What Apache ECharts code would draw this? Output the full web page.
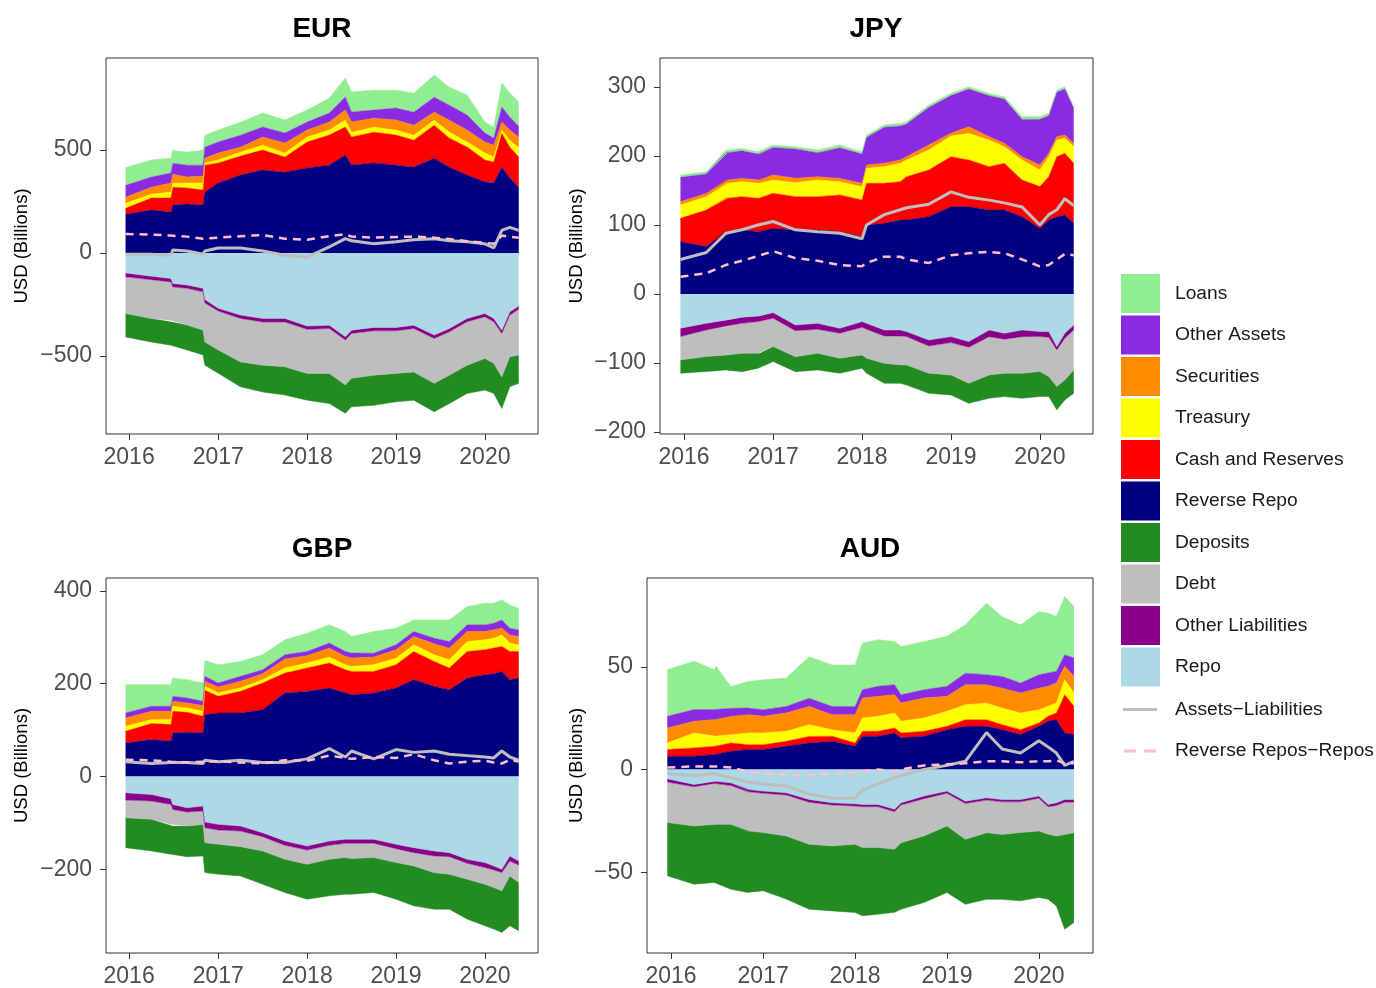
<!DOCTYPE html>
<html><head><meta charset="utf-8">
<script src="https://cdn.jsdelivr.net/npm/echarts@6/dist/echarts.min.js"></script>
<style>html,body{margin:0;padding:0;background:#fff}#c{width:1376px;height:988px}</style>
</head><body><div id="c"></div>
<script>
// ---------- tick labels ----------
const yearTicks = [2016, 2017, 2018, 2019, 2020];
const eurTicks = [-500, 0, 500];
const jpyTicks = [-200, -100, 0, 100, 200, 300];
const gbpTicks = [-200, 0, 200, 400];
const audTicks = [-50, 0, 50];

// ---------- EUR ----------
const eurDates = [2015.96,2016.25,2016.47,2016.49,2016.65,2016.83,2016.85,2017.0,2017.25,2017.5,2017.75,2018.0,2018.25,2018.43,2018.5,2018.75,2019.0,2019.2,2019.43,2019.6,2019.8,2020.0,2020.1,2020.19,2020.28,2020.38];
const eurReverseRepo = [189,209,199,233,238,233,296,340,379,403,393,413,427,476,427,437,427,417,461,417,379,345,340,417,364,320];
const eurCash = [29,58,68,87,78,73,131,97,92,97,73,126,146,136,136,150,146,131,160,141,136,107,102,165,150,146];
const eurTreasury = [24,19,29,19,24,34,10,15,19,24,19,24,24,34,24,24,24,24,24,29,24,34,24,15,34,44];
const eurSecurities = [29,34,44,44,29,34,24,34,24,39,49,34,39,49,49,44,49,49,39,58,58,53,58,39,49,53];
const eurOtherAssets = [58,49,49,53,58,53,53,53,58,49,49,39,44,63,49,39,58,63,73,73,73,44,34,73,63,53];
const eurLoans = [87,83,73,63,63,73,58,58,63,68,63,58,73,92,97,97,87,92,107,87,97,53,53,117,117,117];
const eurRepo = [-96,-112,-123,-147,-155,-171,-225,-268,-301,-317,-317,-354,-350,-406,-374,-361,-361,-350,-398,-366,-317,-293,-317,-374,-285,-257];
const eurOtherLiab = [-19,-17,-17,-17,-16,-17,-17,-13,-16,-17,-17,-16,-16,-16,-16,-16,-16,-16,-16,-16,-16,-16,-16,-16,-16,-16];
const eurDebt = [-178,-189,-186,-170,-178,-186,-189,-189,-211,-210,-218,-214,-218,-218,-218,-216,-207,-211,-218,-211,-211,-202,-202,-211,-202,-222];
const eurDeposits = [-114,-114,-121,-121,-121,-121,-113,-113,-121,-130,-137,-130,-146,-137,-138,-146,-138,-137,-138,-137,-137,-154,-146,-153,-146,-137];
const eurAssetsLiab = [-5,-5,-10,15,10,-5,10,25,25,10,-10,-20,30,70,60,45,55,65,70,60,55,45,25,110,125,110];
const eurRevRepoMinusRepo = [93,90,85,85,80,70,72,75,82,88,70,65,82,92,80,75,78,80,75,68,58,50,45,85,80,75];

// ---------- JPY ----------
const jpyDates = [2015.96,2016.25,2016.47,2016.49,2016.65,2016.83,2016.85,2017.0,2017.25,2017.5,2017.75,2018.0,2018.05,2018.25,2018.43,2018.5,2018.75,2019.0,2019.2,2019.43,2019.6,2019.8,2020.0,2020.1,2020.19,2020.28,2020.38];
const jpyReverseRepo = [75.8,68.6,90.3,90.3,92.7,90.3,90.3,95.2,92.7,92.7,90.3,83.1,100,102.4,107.2,107.2,112,126.5,126.5,121.7,121.7,112,95.2,107.2,112,114.5,102.4];
const jpyCash = [33.8,53,48.3,48.3,48.3,48.3,48.3,50.7,48.3,48.3,53.1,53.1,60.4,58,55.5,62.8,67.6,72.5,67.6,62.8,67.6,53.1,60.4,62.8,87,89.4,87];
const jpyTreasury = [19.3,19.3,21.7,21.7,21.7,21.7,21.7,19.3,20.3,24.2,19.3,19.3,21.7,24.2,26.6,24.2,29,30,38.6,38.6,24.2,29,24.2,29,24.2,21.7,24.2];
const jpySecurities = [4.8,4.8,4.8,4.8,4.8,4.8,4.8,7.2,6.3,4.8,4.8,4.8,4.8,4.8,4.8,4.8,7.2,3.9,9.7,4.8,4.8,4.8,7.2,4.8,4.8,4.8,4.8];
const jpyOtherAssets = [35.3,28,39.6,39.6,40,37.7,37.7,40,42.5,34.8,44.4,42.5,40,52.2,49.3,47.3,54.6,54.6,54.6,59.4,64.2,54.1,66.2,54.6,64.2,66.7,50.7];
const jpyLoans = [3.4,3.4,3.9,3.9,3.4,3.4,3.4,3.4,3.4,3.9,3.9,3.4,3.4,3.4,3.9,3.4,3.4,3.4,3.4,3.4,3.4,3.9,3.9,3.4,3.4,3.4,2.4];
const jpyRepo = [-49.7,-42.5,-37.7,-37.7,-33.8,-31.9,-31.9,-27,-45,-42.5,-49.7,-40.1,-42.5,-52.2,-52.2,-54.6,-66.7,-61.8,-69.1,-52.2,-57,-52.2,-54.6,-54.6,-76.3,-57,-44.9];
const jpyOtherLiab = [-12.1,-9.7,-8.7,-8.7,-8.7,-8.2,-8.2,-8.2,-8.2,-8.7,-7.2,-8.2,-8.7,-8.7,-8.7,-7.2,-8.7,-8.7,-8.2,-9.7,-8.7,-9.7,-7.2,-8.2,-4.8,-7.2,-7.2];
const jpyDebt = [-33.8,-38.6,-42,-42,-43.5,-45.9,-45.9,-41.1,-37.7,-34.8,-36.2,-40.1,-42,-39.6,-42,-41.1,-39.6,-46.9,-52.2,-55.5,-49.3,-53.1,-50.7,-57,-53.1,-60.4,-58];
const jpyDeposits = [-19.3,-21.7,-21.7,-21.7,-26.6,-21.7,-21.7,-21.7,-21.7,-24.2,-21.7,-19.3,-21.7,-29,-26.6,-29,-29,-29,-29,-33.8,-33.8,-36.2,-36.2,-29,-33.8,-29,-33.8];
const jpyAssetsLiab = [50,60,88,88,93,100,100,105,93,90,88,80,100,115,122,125,130,148,140,136,132,126,100,115,122,138,128];
const jpyRevRepoMinusRepo = [25,30,42,42,48,55,55,62,52,48,42,40,45,54,54,50,45,56,59,61,59,50,40,42,50,58,56];

// ---------- GBP ----------
const gbpDates = [2015.96,2016.25,2016.47,2016.49,2016.65,2016.83,2016.85,2017.0,2017.25,2017.5,2017.75,2018.0,2018.25,2018.43,2018.5,2018.75,2019.0,2019.2,2019.43,2019.6,2019.8,2020.0,2020.1,2020.19,2020.28,2020.38];
const gbpReverseRepo = [72.4,79.6,76,94,95.4,94,133.4,137,137,144.1,180,183.5,190.7,180,176.4,180,190.7,208.6,194.3,187.1,212.2,219.4,221.6,226.6,208.6,212.2];
const gbpCash = [25.1,34.4,35.9,46.6,43,35.9,52.3,35.9,46.6,57.4,43,50.2,53.8,50.2,50.2,46.6,50.2,60.9,53.8,46.6,57.4,53.8,55.2,53.8,60.9,57.4];
const gbpTreasury = [10.8,8.6,10.8,10.8,9.3,10.8,8.6,7.2,7.2,7.2,10.8,10.8,12.9,10.8,10.8,14.3,14.3,14.3,14.3,17.9,21.5,21.5,21.5,25.1,17.9,14.3];
const gbpSecurities = [17.9,17.9,17.9,10.8,10.8,12.2,10.8,12.9,14.3,12.9,19.4,15.8,19.4,17.9,17.9,16.5,17.9,17.9,23.7,25.1,21.5,17.9,17.9,14.3,17.9,17.9];
const gbpOtherAssets = [10.8,10.8,10.8,10.8,10.8,9.3,10.8,8.6,10.8,8.6,9.3,9.3,10.8,10.8,10.8,8.6,10.8,10.8,12.2,14.3,14.3,14.3,14.3,17.9,14.3,14.3];
const gbpLoans = [60.9,46.6,46.6,39.4,39.4,39.4,34.4,39.4,32.3,32.3,32.3,39.4,39.4,43,35.9,46.6,35.9,25.1,39.4,46.6,39.4,46.6,43,43,50.2,46.6];
const gbpRepo = [-35.1,-38.7,-48,-60.2,-67.4,-63.8,-98.2,-103.2,-106.8,-121.2,-139.1,-149.9,-139.1,-135.5,-135.5,-135.5,-146.3,-153.4,-160.6,-164.2,-178.5,-185.7,-192.9,-200,-171.4,-182.1];
const gbpOtherLiab = [-15.8,-14.3,-12.2,-10.8,-9.3,-10.8,-12.2,-12.2,-10.8,-8.6,-9.3,-8.6,-9.3,-8.6,-8.6,-8.6,-9.3,-10.8,-10.8,-8.6,-8.6,-10.8,-8.6,-7.2,-10.8,-9.3];
const gbpDebt = [-38,-39.4,-43,-35.9,-30.1,-28.7,-32.3,-30.8,-33.7,-30.8,-30.1,-30.8,-30.1,-30.8,-33,-30.8,-30.1,-28.7,-35.9,-38,-34.4,-35.9,-38,-39.4,-32.3,-37.3];
const gbpDeposits = [-64.5,-68.1,-64.5,-64.5,-66,-68.1,-64.5,-64.5,-63.1,-71.7,-71.7,-75.3,-78.9,-78.9,-76.7,-75.3,-78.9,-86,-78.9,-75.3,-86,-89.6,-89.6,-89.6,-107.6,-104];
const gbpAssetsLiab = [32,28,30,28,30,28,35,32,35,30,30,38,60,42,55,38,58,52,55,48,45,42,40,55,42,35];
const gbpRevRepoMinusRepo = [36,35,32,33,30,32,34,33,30,28,35,34,45,40,38,42,40,48,35,28,32,34,30,28,36,32];

// ---------- AUD ----------
const audDates = [2015.96,2016.25,2016.47,2016.49,2016.65,2016.83,2016.85,2017.0,2017.25,2017.5,2017.75,2018.0,2018.08,2018.25,2018.43,2018.5,2018.75,2019.0,2019.2,2019.43,2019.6,2019.8,2020.0,2020.1,2020.19,2020.28,2020.38];
const audReverseRepo = [6.5,6.5,7.3,7.3,8.9,9.7,9.7,9.7,11.3,12.9,13.8,11.3,16.2,16.2,17.8,15.4,16.2,19.4,21,21,19.4,17,21,23.5,24.3,17.8,17];
const audCash = [3.2,4,4,4,4,2.4,2.4,2.4,2.4,3.2,2.4,1.6,2.4,2.4,2.4,2.4,2.4,1.6,3.2,3.2,2.4,2.4,1.6,2.4,3.2,18.6,13.8];
const audTreasury = [3.2,7.3,4.9,4.9,4,5.7,5.7,5.7,4.9,5.7,3.2,4.9,6.5,7.3,7.3,5.7,6.5,7.3,7.3,8.1,8.1,8.1,6.5,4.9,4.9,7.3,6.5];
const audSecurities = [7.3,5.7,8.1,8.1,8.9,8.9,8.9,8.1,8.9,8.9,7.3,8.9,9.7,9.7,8.9,8.9,9.7,7.3,9.7,8.9,9.7,9.7,10.5,9.7,9.7,6.5,8.1];
const audOtherAssets = [5.7,5.7,4.9,4.9,4,3.2,3.2,3.2,3.2,4,4,4,4,4.9,4.9,4,4,4.9,5.7,4.9,5.7,4.9,6.5,6.5,5.7,5.7,8.9];
const audLoans = [22.7,23.5,19.4,21,10.5,12.9,12.9,14.6,13.8,20.2,20.2,20.2,22.7,22.7,21,23.5,23.5,24.3,23.5,34.8,29.1,28.3,30.7,29.1,26.7,28.3,25.1];
const audRepo = [-4.5,-7.3,-5.7,-5.7,-6.5,-9.7,-9.7,-10.5,-11.3,-14.6,-16.2,-16.7,-17,-17,-19.4,-16.2,-12.9,-10.5,-15.4,-13.8,-14.6,-14.6,-12.9,-17,-16.2,-14.6,-14.6];
const audOtherLiab = [-1.6,-1.1,-1.1,-1.1,-1.3,-1.1,-1.1,-1.1,-1.1,-1.3,-1.1,-1.1,-1.1,-1.1,-1.1,-1.1,-1.3,-1.1,-1.1,-1.1,-1.1,-1.1,-1.1,-1.1,-1.3,-1.3,-1.3];
const audDebt = [-19.7,-19.1,-19.9,-19.9,-18.9,-19.1,-19.1,-19.1,-19.9,-20.5,-19.9,-18.6,-19.9,-19.9,-18.3,-18.3,-18.1,-15.9,-17.5,-15.9,-15.9,-15,-15.9,-13.4,-14.9,-15.7,-14.9];
const audDeposits = [-25.9,-28.3,-28.3,-28.3,-31.6,-29.9,-29.9,-28.3,-30.7,-31.6,-31.6,-33.2,-33.2,-32.4,-30.7,-32.4,-32.4,-32.4,-31.6,-32.4,-31.6,-33.2,-32.4,-31.6,-34,-46.1,-43.7];
const audAssetsLiab = [-2,-3,-2,-2,-4,-6,-6,-7,-8,-12,-14,-14,-10,-7,-4,-3,0,2,4,18,10,8,14,11,8,2,4];
const audRevRepoMinusRepo = [1,1.5,1.5,1.5,1,-1,-1,-2,-2.5,-2.5,-2,-1.5,-1,0,-1,0,2,2.5,3,4,4,3.5,4,4,4.5,3,3];

// ---------- styling ----------
const FONT = '"Liberation Sans", Arial, Helvetica, sans-serif';
const COLORS = {
  'Loans': '#90EE90', 'Other Assets': '#8A2BE2', 'Securities': '#FF8C00', 'Treasury': '#FFFF00',
  'Cash and Reserves': '#FF0000', 'Reverse Repo': '#000080', 'Deposits': '#228B22', 'Debt': '#BEBEBE',
  'Other Liabilities': '#8B008B', 'Repo': '#ADD8E6'
};
const AL_NAME = 'Assets\u2212Liabilities';
const RR_NAME = 'Reverse Repos\u2212Repos';

// decimal year -> timestamp (UTC); the x axis is a value axis in ms
const toMs = y => { const yr = Math.floor(y); const a = Date.UTC(yr, 0, 1), b = Date.UTC(yr + 1, 0, 1); return Math.round(a + (y - yr) * (b - a)); };
const yearTickMs = yearTicks.map(y => Date.UTC(y, 0, 1));

const panels = [
  { title: 'EUR', cx: 322, ty: 15, grid: {left:106, top:58, width:432, height:376}, xmin: 2015.74, xmax: 2020.596, ymin: -878, ymax: 947, ticks: eurTicks, nameGap: 75,
    dates: eurDates, pos: [['Reverse Repo', eurReverseRepo], ['Cash and Reserves', eurCash], ['Treasury', eurTreasury], ['Securities', eurSecurities], ['Other Assets', eurOtherAssets], ['Loans', eurLoans]],
    neg: [['Repo', eurRepo], ['Other Liabilities', eurOtherLiab], ['Debt', eurDebt], ['Deposits', eurDeposits]], al: eurAssetsLiab, rr: eurRevRepoMinusRepo },
  { title: 'JPY', cx: 876, ty: 15, grid: {left:660, top:58, width:433, height:376}, xmin: 2015.73, xmax: 2020.596, ymin: -203, ymax: 342, ticks: jpyTicks, nameGap: 74,
    dates: jpyDates, pos: [['Reverse Repo', jpyReverseRepo], ['Cash and Reserves', jpyCash], ['Treasury', jpyTreasury], ['Securities', jpySecurities], ['Other Assets', jpyOtherAssets], ['Loans', jpyLoans]],
    neg: [['Repo', jpyRepo], ['Other Liabilities', jpyOtherLiab], ['Debt', jpyDebt], ['Deposits', jpyDeposits]], al: jpyAssetsLiab, rr: jpyRevRepoMinusRepo },
  { title: 'GBP', cx: 322, ty: 535, grid: {left:106, top:578, width:432, height:376}, xmin: 2015.74, xmax: 2020.596, ymin: -380.6, ymax: 428, ticks: gbpTicks, nameGap: 75,
    dates: gbpDates, pos: [['Reverse Repo', gbpReverseRepo], ['Cash and Reserves', gbpCash], ['Treasury', gbpTreasury], ['Securities', gbpSecurities], ['Other Assets', gbpOtherAssets], ['Loans', gbpLoans]],
    neg: [['Repo', gbpRepo], ['Other Liabilities', gbpOtherLiab], ['Debt', gbpDebt], ['Deposits', gbpDeposits]], al: gbpAssetsLiab, rr: gbpRevRepoMinusRepo },
  { title: 'AUD', cx: 870, ty: 535, grid: {left:647, top:578, width:446, height:376}, xmin: 2015.739, xmax: 2020.587, ymin: -89.3, ymax: 93.2, ticks: audTicks, nameGap: 61,
    dates: audDates, pos: [['Reverse Repo', audReverseRepo], ['Cash and Reserves', audCash], ['Treasury', audTreasury], ['Securities', audSecurities], ['Other Assets', audOtherAssets], ['Loans', audLoans]],
    neg: [['Repo', audRepo], ['Other Liabilities', audOtherLiab], ['Debt', audDebt], ['Deposits', audDeposits]], al: audAssetsLiab, rr: audRevRepoMinusRepo }
];

// stacked areas: value column first so the stack is applied to it (x given in column 1)
const stackRows = (d, v) => d.map((x, i) => [v[i], toMs(x)]);
const lineRows = (d, v) => d.map((x, i) => [toMs(x), v[i]]);
const fmtNum = v => (v < 0 ? '\u2212' + Math.abs(v) : String(v));

const grids = [], xAxes = [], yAxes = [], series = [], titles = [];
panels.forEach((p, i) => {
  grids.push(Object.assign({show: true, borderColor: '#333333', borderWidth: 1, backgroundColor: 'transparent', containLabel: false}, p.grid));
  titles.push({text: p.title, left: p.cx, top: p.ty, textAlign: 'center', padding: 0,
    textStyle: {fontSize: 28, fontWeight: 'bold', color: '#000', fontFamily: FONT}});
  xAxes.push({type: 'value', gridIndex: i, min: toMs(p.xmin), max: toMs(p.xmax),
    axisLine: {show: false, onZero: false},
    axisTick: {show: true, length: 6, customValues: yearTickMs, lineStyle: {color: '#333333', width: 1}},
    axisLabel: {customValues: yearTickMs, fontSize: 23, color: '#4D4D4D', margin: 12, fontFamily: FONT,
      formatter: v => String(new Date(v).getUTCFullYear())},
    splitLine: {show: false}});
  yAxes.push({type: 'value', gridIndex: i, min: p.ymin, max: p.ymax,
    name: 'USD (Billions)', nameLocation: 'middle', nameRotate: 90, nameGap: p.nameGap,
    nameTextStyle: {fontSize: 18.5, color: '#000', fontFamily: FONT},
    axisLine: {show: false, onZero: false},
    axisTick: {show: true, length: 6, customValues: p.ticks, lineStyle: {color: '#333333', width: 1}},
    axisLabel: {customValues: p.ticks, fontSize: 23, color: '#4D4D4D', margin: 14, fontFamily: FONT, formatter: fmtNum,
      padding: [4, 0, 0, 0]},
    splitLine: {show: false}});
  const mkArea = (name, vals, stack) => ({
    type: 'line', name, xAxisIndex: i, yAxisIndex: i, stack,
    dimensions: ['amount', 'date'], encode: {x: 1, y: 0},
    data: stackRows(p.dates, vals),
    symbol: 'none', showSymbol: false, silent: true, animation: false, z: 2,
    lineStyle: {width: 0.5, color: COLORS[name]}, itemStyle: {color: COLORS[name]},
    areaStyle: {color: COLORS[name], opacity: 1}
  });
  p.pos.forEach(([n, v]) => series.push(mkArea(n, v, 'pos' + i)));
  p.neg.forEach(([n, v]) => series.push(mkArea(n, v, 'neg' + i)));
  series.push({type: 'line', name: AL_NAME, xAxisIndex: i, yAxisIndex: i, data: lineRows(p.dates, p.al),
    symbol: 'none', showSymbol: false, silent: true, animation: false, z: 3,
    lineStyle: {width: 3, color: '#BEBEBE'}, itemStyle: {color: '#BEBEBE'}});
  series.push({type: 'line', name: RR_NAME, xAxisIndex: i, yAxisIndex: i, data: lineRows(p.dates, p.rr),
    symbol: 'none', showSymbol: false, silent: true, animation: false, z: 4,
    lineStyle: {width: 2.5, color: '#FFC0CB', type: [8, 6]}, itemStyle: {color: '#FFC0CB'}});
});

const legendNames = ['Loans', 'Other Assets', 'Securities', 'Treasury', 'Cash and Reserves', 'Reverse Repo', 'Deposits', 'Debt', 'Other Liabilities', 'Repo'];
const legendData = legendNames.map(n => ({name: n, icon: 'rect', itemStyle: {color: COLORS[n], borderWidth: 0}}));

const chart = echarts.init(document.getElementById('c'), null, {renderer: 'canvas'});
chart.setOption({
  animation: false,
  backgroundColor: '#ffffff',
  textStyle: {fontFamily: FONT},
  title: titles,
  grid: grids,
  xAxis: xAxes,
  yAxis: yAxes,
  legend: [
    {orient: 'vertical', left: 1121, top: 274, padding: 0, itemWidth: 39, itemHeight: 39, itemGap: 2.5,
      selectedMode: false,
      textStyle: {fontSize: 19.2, color: '#1A1A1A', fontFamily: FONT, padding: [0, 0, 0, 10]},
      data: legendData},
    {orient: 'vertical', left: 1123, top: 699, padding: 0, itemWidth: 34, itemHeight: 3, itemGap: 20.5,
      selectedMode: false,
      textStyle: {fontSize: 19.2, color: '#1A1A1A', fontFamily: FONT, lineHeight: 21, padding: [0, 0, 0, 13]},
      data: [
        {name: AL_NAME, icon: 'rect', itemStyle: {color: '#BEBEBE', borderWidth: 0}},
        {name: RR_NAME, icon: 'path://M0,0h12v3h-12z M20,0h12v3h-12z', itemStyle: {color: '#FFC0CB', borderWidth: 0}}
      ]}
  ],
  series
});
</script>
</body></html>
